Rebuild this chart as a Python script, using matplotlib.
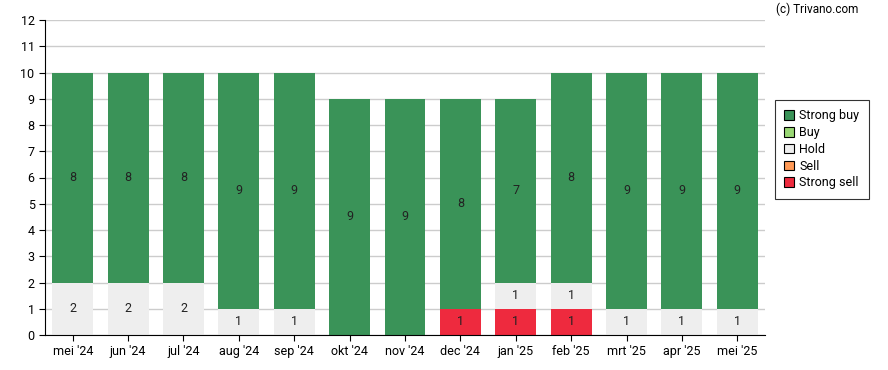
import numpy as np
import matplotlib
matplotlib.use("Agg")
from matplotlib import pyplot as plt
from matplotlib.patches import Patch

plt.rcParams['font.family'] = ['Roboto', 'DejaVu Sans']

months = ["mei '24", "jun '24", "jul '24", "aug '24", "sep '24", "okt '24", "nov '24",
          "dec '24", "jan '25", "feb '25", "mrt '25", "apr '25", "mei '25"]
strong_buy = [8, 8, 8, 9, 9, 9, 9, 8, 7, 8, 9, 9, 9]
buy = [0, 0, 0, 0, 0, 0, 0, 0, 0, 0, 0, 0, 0]
hold = [2, 2, 2, 1, 1, 0, 0, 0, 1, 1, 1, 1, 1]
sell = [0, 0, 0, 0, 0, 0, 0, 0, 0, 0, 0, 0, 0]
strong_sell = [0, 0, 0, 0, 0, 0, 0, 1, 1, 1, 0, 0, 0]

series = [("Strong sell", strong_sell, "#ee2a3e"),
          ("Sell", sell, "#ff9955"),
          ("Hold", hold, "#eeeeee"),
          ("Buy", buy, "#99d774"),
          ("Strong buy", strong_buy, "#3a9358")]

fig = plt.figure(figsize=(8.88, 3.70), dpi=100)
ax = fig.add_axes([45 / 888, 1 - 335 / 370, 720 / 888, 315 / 370])

x = np.arange(len(months))
bottom = np.zeros(len(months))
for name, vals, col in series:
    vals = np.array(vals)
    ax.bar(x, vals, 0.74, bottom=bottom, color=col, zorder=2)
    for i, v in enumerate(vals):
        if v > 0:
            ax.text(x[i], bottom[i] + v / 2, str(v), ha='center', va='center',
                    fontsize=9, color='#222222', zorder=3)
    bottom += vals

ax.set_xlim(-0.5, len(months) - 0.5)
ax.set_ylim(0, 12)
ax.set_yticks(range(13))
ax.set_xticks(x)
ax.set_xticklabels(months)
ax.tick_params(labelsize=9, length=4, color='black')
ax.grid(axis='y', color='#cccccc', linewidth=1, zorder=0)
ax.spines['top'].set_visible(False)
ax.spines['right'].set_visible(False)

handles = [Patch(facecolor=c, edgecolor='black', linewidth=0.8, label=n)
           for n, v, c in reversed(series)]
leg = fig.legend(handles=handles, loc='upper left', bbox_to_anchor=(775 / 888, 1 - 100 / 370),
                 fontsize=9, frameon=True, fancybox=False, edgecolor='black',
                 handlelength=0.8, handleheight=0.8, handletextpad=0.4,
                 labelspacing=0.3, borderpad=0.75, borderaxespad=0)
leg.get_frame().set_linewidth(0.8)

fig.text(858 / 888, 1 - 9 / 370, "(c) Trivano.com", ha='right', va='center', fontsize=8.5)

fig.savefig("out.png", dpi=100)
